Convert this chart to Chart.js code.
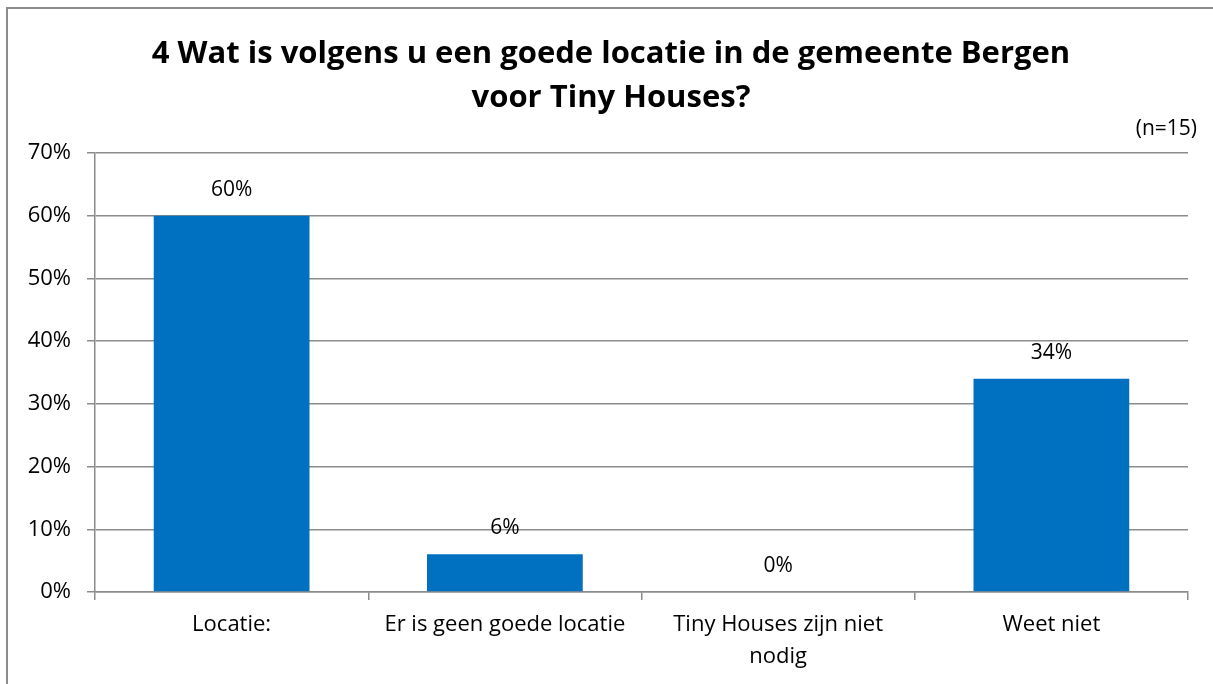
<!DOCTYPE html>
<html>
<head>
<meta charset="utf-8">
<script src="https://cdn.jsdelivr.net/npm/chart.js@4/dist/chart.umd.min.js"></script>
<style>
    html, body { margin: 0; padding: 0; background: #fff; overflow: hidden; }
    #wrap { position: relative; width: 1213px; height: 684px; overflow: hidden; }
    #frame {
        position: absolute; left: 6px; top: 7px; width: 1205px; height: 677px;
        border-left: 2px solid #8c8c8c; border-top: 2px solid #8c8c8c;
    }
    canvas { position: absolute; left: 0; top: 0; }
</style>
</head>
<body>
<div id="wrap">
    <div id="frame"></div>
    <canvas id="myChart" width="1213" height="684"></canvas>
</div>
<script>
'use strict';

const titleLines = ['4 Wat is volgens u een goede locatie in de gemeente Bergen', 'voor Tiny Houses?'];
const sampleNote = '(n=15)';
const categories = [
    'Locatie:',
    'Er is geen goede locatie',
    ['Tiny Houses zijn niet', 'nodig'],
    'Weet niet',
];
const percentages = [60, 6, 0, 34];
const tickValues = [0, 10, 20, 30, 40, 50, 60, 70];

const fontFamily = '"Open Sans", Lato, sans-serif';
const gridColor = '#8c8c8c';

// titles and value labels drawn on the canvas
const textPlugin = {
    id: 'textPlugin',
    afterDraw(chart) {
        const c = chart.ctx;
        c.save();
        c.fillStyle = '#000';
        c.textAlign = 'center';
        c.textBaseline = 'middle';
        c.font = 'bold 31px ' + fontFamily;
        c.fillText(titleLines[0], 611, 54);
        c.fillText(titleLines[1], 611, 98);

        c.font = '21px ' + fontFamily;
        c.textAlign = 'right';
        c.fillText(sampleNote, 1197, 129);

        c.textAlign = 'center';
        const meta = chart.getDatasetMeta(0);
        meta.data.forEach((bar, i) => {
            c.fillText(percentages[i] + '%', bar.x, bar.y - 26);
        });
        c.restore();
    },
};

const myChart = new Chart(document.getElementById('myChart'), {
    type: 'bar',
    data: {
        labels: categories,
        datasets: [
            {
                data: percentages,
                backgroundColor: '#0070c0',
                borderWidth: 0,
                categoryPercentage: 1,
                barPercentage: 0.57,
            },
        ],
    },
    options: {
        responsive: false,
        animation: false,
        layout: {
            padding: { top: 153, left: 0, right: 25, bottom: 0 },
        },
        plugins: {
            legend: { display: false },
            title: { display: false },
            tooltip: { enabled: false },
        },
        scales: {
            y: {
                min: 0,
                max: 70,
                afterFit: (scale) => { scale.width = 95; },
                afterBuildTicks: (scale) => {
                    scale.ticks = tickValues.map((v) => ({ value: v }));
                },
                grid: {
                    color: gridColor,
                    lineWidth: 1.5,
                    tickLength: 8,
                },
                border: { color: gridColor, width: 1.5 },
                ticks: {
                    color: '#000',
                    padding: 16,
                    font: { family: fontFamily, size: 22 },
                    callback: (v) => v + '%',
                },
            },
            x: {
                afterFit: (scale) => { scale.height = 92; },
                grid: {
                    offset: true,
                    drawOnChartArea: false,
                    color: gridColor,
                    lineWidth: 1.5,
                    tickLength: 8,
                },
                border: { color: gridColor, width: 1.5 },
                ticks: {
                    color: '#000',
                    padding: 9,
                    maxRotation: 0,
                    autoSkip: false,
                    font: { family: fontFamily, size: 22, lineHeight: 1.45 },
                },
            },
        },
    },
    plugins: [textPlugin],
});
</script>
</body>
</html>
